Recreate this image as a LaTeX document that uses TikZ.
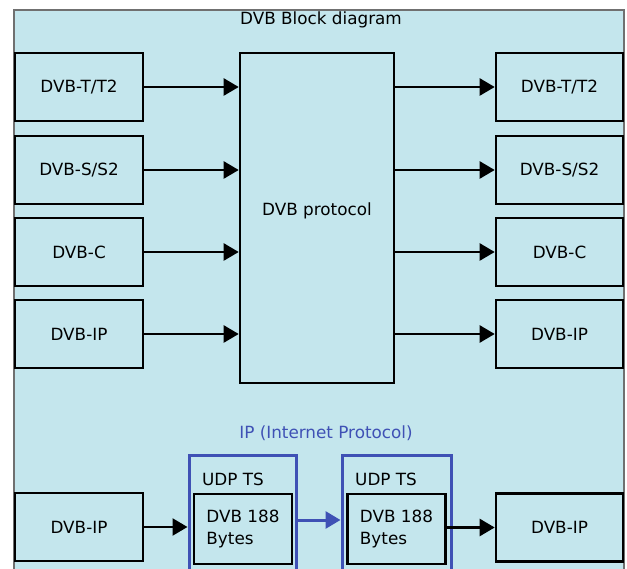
\documentclass[tikz,border=0pt]{standalone}
\usepackage{fontspec}
\setmainfont{DejaVu Sans}
\usepackage{xcolor}
\definecolor{panelbg}{HTML}{C4E6ED}
\definecolor{panelrim}{HTML}{707070}
\definecolor{ipblue}{HTML}{3F51B5}
\usetikzlibrary{arrows.meta,calc}
\tikzset{
  blk/.style     = {draw=black,line width=2.6pt,minimum width=128pt,
                     minimum height=68pt,inner sep=0pt,align=center},
  protobox/.style= {draw=black,line width=2.6pt,minimum width=154pt,
                     minimum height=330pt,inner sep=0pt},
  udpbox/.style  = {draw=ipblue,line width=3pt,minimum width=107pt,
                     minimum height=150pt,inner sep=0pt},
  bytebox/.style = {draw=black,line width=2.6pt,minimum width=98pt,
                     minimum height=70pt,inner sep=0pt,align=left,
                     font=\fontsize{16.8}{22}\selectfont},
  lbl/.style     = {inner sep=0pt},
  sig/.style     = {-{Triangle[length=15pt,width=17pt]},line width=2.4pt},
  ipsig/.style   = {-{Triangle[length=15pt,width=17pt]},line width=3pt,
                     draw=ipblue,fill=ipblue},
  panel/.style   = {draw=panelrim,line width=1.4pt,fill=panelbg},
}

\begin{document}
\begin{tikzpicture}[x=1pt,y=-1pt,font=\fontsize{16.8}{20}\selectfont]
  \path[use as bounding box,clip] (0,0) rectangle (627,569);
  % panel
  \draw[panel] (14,10) rectangle (624,640);
  \node[lbl] (title) at (321,20) {DVB Block diagram};
  % inputs
  \node[blk] (inT) at (79,87)   {DVB-T/T2};
  \node[blk] (inS) at (79,170)  {DVB-S/S2};
  \node[blk] (inC) at (79,252)  {DVB-C};
  \node[blk] (inI) at (79,334)  {DVB-IP};
  % protocol
  \node[protobox] (proto) at (317,218) {};
  \node[lbl] (protolbl) at (317,211) {DVB protocol};
  % outputs
  \node[blk,minimum width=127pt] (outT) at (559.5,87)  {DVB-T/T2};
  \node[blk,minimum width=127pt] (outS) at (559.5,170) {DVB-S/S2};
  \node[blk,minimum width=127pt] (outC) at (559.5,252) {DVB-C};
  \node[blk,minimum width=127pt] (outI) at (559.5,334) {DVB-IP};
  \foreach \r in {T,S,C,I}{
    \draw[sig] (in\r.east) -- (in\r.east -| proto.west);
    \draw[sig] (proto.east |- out\r.west) -- (out\r.west);
  }
  % IP path
  \node[lbl,text=ipblue] (iptitle) at (326,433) {IP (Internet Protocol)};
  \node[udpbox] (udpA) at (242.5,530) {};
  \node[udpbox,minimum width=109pt] (udpB) at (396.5,530) {};
  \node[lbl,anchor=west] (udpAlbl) at (202,479) {UDP TS};
  \node[lbl,anchor=west] (udpBlbl) at (355,479) {UDP TS};
  \node[bytebox] (bytesA) at (243,529)   {DVB 188\\Bytes};
  \node[bytebox] (bytesB) at (396.5,529) {DVB 188\\Bytes};
  \node[blk] (inIPb) at (79,527) {DVB-IP};
  \node[blk,minimum width=127pt] (outIPb) at (559.5,527.5) {DVB-IP};
  \draw[sig] (inIPb.east) -- (inIPb.east -| udpA.west);
  \draw[ipsig] ([yshift=10pt]udpA.east) -- ([yshift=10pt]udpB.west);
  \draw[sig] (bytesB.east |- outIPb.west) -- (outIPb.west);
\end{tikzpicture}
\end{document}
